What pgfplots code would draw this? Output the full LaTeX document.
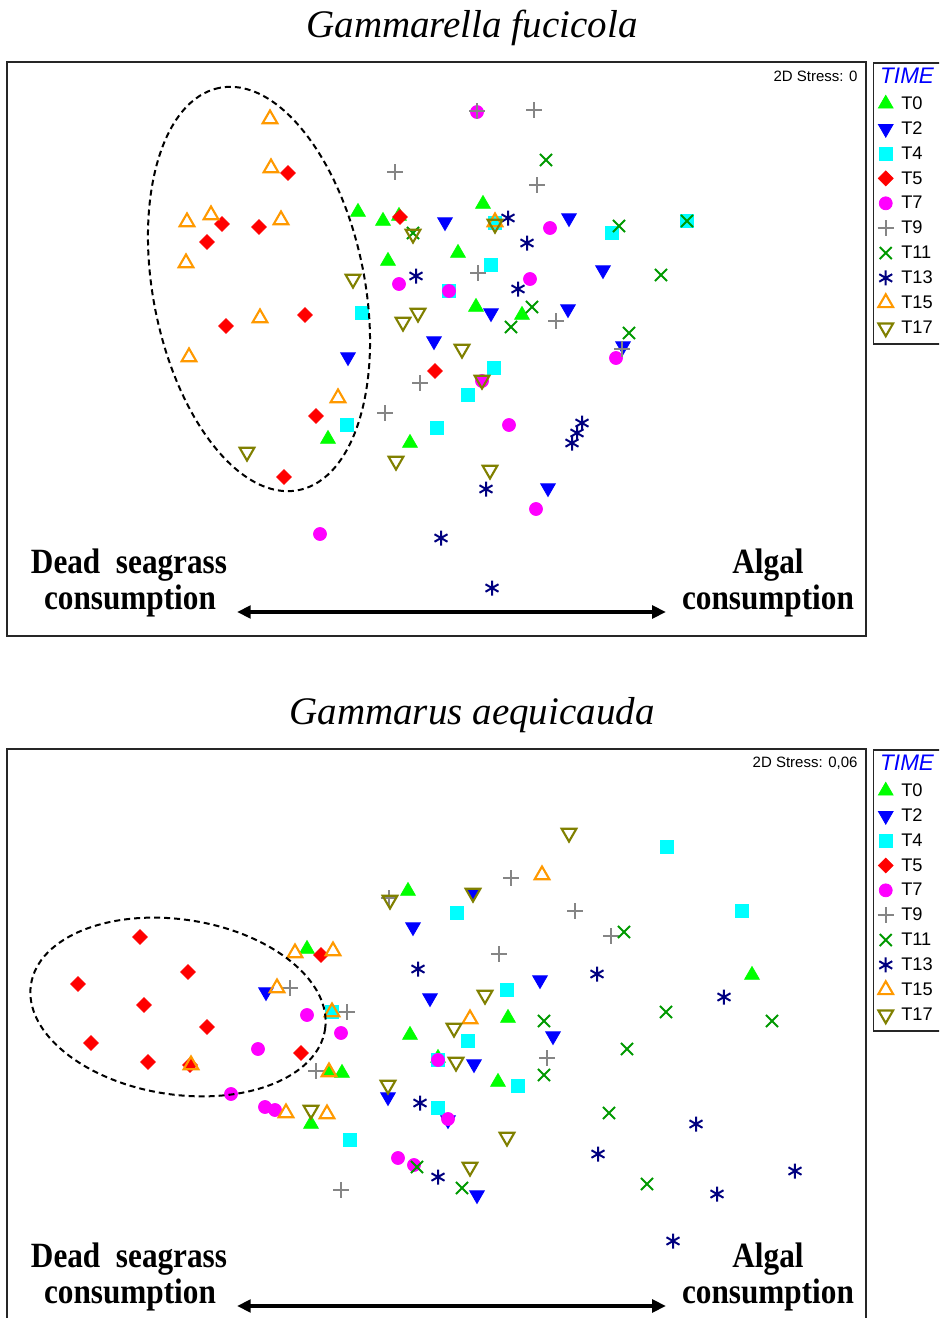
\documentclass[border=0pt]{standalone}
\usepackage{pgfplots}
\pgfplotsset{compat=1.18}
\usepackage{graphicx}
\usepackage{fontspec}
\setmainfont{Liberation Serif}
\newfontfamily\arialfont{Liberation Sans}
\usetikzlibrary{arrows.meta}

\definecolor{c0}{HTML}{00FF00}
\definecolor{c2}{HTML}{0000FF}
\definecolor{c4}{HTML}{00FFFF}
\definecolor{c5}{HTML}{FF0000}
\definecolor{c7}{HTML}{FF00FF}
\definecolor{c9}{HTML}{858585}
\definecolor{c11}{HTML}{009900}
\definecolor{c13}{HTML}{000080}
\definecolor{c15}{HTML}{FF9900}
\definecolor{c17}{HTML}{808000}

\pgfplotsset{
 sT0/.style={only marks, mark=triangle*, mark size=3.4pt, color=c0, line width=0.3pt},
 sT2/.style={only marks, mark=triangle*, mark size=3.4pt, color=c2, line width=0.3pt, mark options={rotate=180}},
 sT4/.style={only marks, mark=square*, mark size=2.6pt, color=c4, line width=0.3pt},
 sT5/.style={only marks, mark=square*, mark size=2.1pt, color=c5, line width=0.3pt, mark options={rotate=45}},
 sT7/.style={only marks, mark=*, mark size=2.6pt, color=c7, line width=0.3pt},
 sT9/.style={only marks, mark=+, mark size=3.2pt, color=c9, line width=0.9pt},
 sT11/.style={only marks, mark=x, mark size=3.4pt, color=c11, line width=0.8pt},
 sT13/.style={only marks, mark=asterisk, mark size=3pt, color=c13, line width=0.8pt},
 sT15/.style={only marks, mark=triangle, mark size=3.4pt, color=c15, line width=0.85pt},
 sT17/.style={only marks, mark=triangle, mark size=3.4pt, color=c17, line width=0.85pt, mark options={rotate=180}},
 nmds/.style={
  scale only axis, width=343.6pt, xmin=7, xmax=866, y dir=reverse,
  ticks=none, axis line style={line width=0.6pt, black!85},
  anchor=north west,
  legend cell align=left,
  legend image code/.code={\draw[mark repeat=2,mark phase=2,##1] plot coordinates {(0pt,0pt) (3.5pt,0pt) (7pt,0pt)};},
  legend style={at={(1.00815,1)}, anchor=north west, draw=black!85, line width=0.6pt,
    font={\arialfont\fontsize{7.3}{8.5}\selectfont},
    inner xsep=1.3pt, inner ysep=1.5pt, row sep=0pt,
    nodes={inner xsep=3pt, inner ysep=0pt, text height=7.2pt, text depth=2.75pt}},
 },
}

\begin{document}
\begin{tikzpicture}
\useasboundingbox (0,0) rectangle (375.6pt,-527.2pt);
\clip (0,0) rectangle (375.6pt,-527.2pt);

% ---------------- Top panel: Gammarella fucicola ----------------
\begin{axis}[nmds, at={(2.8pt,-24.8pt)}, height=229.6pt, ymin=62, ymax=636]
\addlegendimage{empty legend}
\addlegendentry{\hspace*{-8.4pt}\raisebox{0.6pt}{\textcolor{blue}{\fontsize{9}{10}\selectfont\itshape TIME}}}
\addplot[sT0] coordinates {(358,212)(383,221)(399,216)(483,204)(388,261)(458,253)(476,307)(522,315)(328,439)(410,443)};
\addlegendentry{T0}
\addplot[sT2] coordinates {(445,222)(569,218)(603,270)(491,313)(568,309)(434,341)(623,346)(348,357)(548,488)};
\addlegendentry{T2}
\addplot[sT4] coordinates {(495,223)(612,233)(687,221)(491,265)(449,291)(362,313)(494,368)(468,395)(347,425)(437,428)};
\addlegendentry{T4}
\addplot[sT5] coordinates {(288,173)(222,224)(207,242)(259,227)(400,217)(226,326)(305,315)(435,371)(316,416)(284,477)};
\addlegendentry{T5}
\addplot[sT7] coordinates {(477,112)(550,228)(399,284)(449,291)(530,279)(482,381)(616,358)(509,425)(536,509)(320,534)};
\addlegendentry{T7}
\addplot[sT9] coordinates {(477,111)(534,110)(395,172)(537,185)(478,273)(556,321)(622,349)(420,383)(385,413)};
\addlegendentry{T9}
\addplot[sT11] coordinates {(546,160)(619,226)(687,221)(661,275)(532,307)(511,327)(629,333)(413,233)};
\addlegendentry{T11}
\addplot[sT13] coordinates {(508,218)(527,243)(416,276)(518,289)(582,423)(577,433)(572,443)(486,489)(441,538)(492,588)};
\addlegendentry{T13}
\addplot[sT15] coordinates {(270,119)(271,168)(187,222)(211,215)(281,220)(186,263)(260,318)(189,357)(338,398)(495,222)};
\addlegendentry{T15}
\addplot[sT17] coordinates {(413,234)(495,224)(353,279)(418,313)(403,322)(462,349)(482,380)(247,452)(396,461)(490,470)};
\addlegendentry{T17}
\end{axis}

% ---------------- Bottom panel: Gammarus aequicauda ----------------
\begin{axis}[nmds, at={(2.8pt,-299.6pt)}, height=232.4pt, ymin=749, ymax=1330]
\addlegendimage{empty legend}
\addlegendentry{\hspace*{-8.4pt}\raisebox{0.6pt}{\textcolor{blue}{\fontsize{9}{10}\selectfont\itshape TIME}}}
\addplot[sT0] coordinates {(408,891)(307,949)(508,1018)(410,1035)(498,1082)(752,975)(342,1073)(329,1072)(311,1124)(438,1058)};
\addlegendentry{T0}
\addplot[sT2] coordinates {(413,927)(473,893)(430,998)(540,980)(553,1036)(474,1064)(388,1097)(266,992)(477,1195)(448,1120)};
\addlegendentry{T2}
\addplot[sT4] coordinates {(667,847)(742,911)(457,913)(507,990)(468,1041)(518,1086)(438,1108)(350,1140)(332,1012)(438,1060)};
\addlegendentry{T4}
\addplot[sT5] coordinates {(140,937)(188,972)(78,984)(144,1005)(207,1027)(91,1043)(148,1062)(190,1065)(301,1053)(321,955)};
\addlegendentry{T5}
\addplot[sT7] coordinates {(307,1015)(341,1033)(258,1049)(231,1094)(265,1107)(275,1110)(438,1060)(448,1119)(398,1158)(414,1165)};
\addlegendentry{T7}
\addplot[sT9] coordinates {(389,898)(511,878)(575,911)(611,936)(499,954)(547,1058)(290,988)(347,1012)(316,1071)(341,1190)};
\addlegendentry{T9}
\addplot[sT11] coordinates {(624,932)(666,1012)(772,1021)(627,1049)(609,1113)(647,1184)(544,1021)(544,1075)(417,1167)(462,1188)};
\addlegendentry{T11}
\addplot[sT13] coordinates {(418,969)(597,974)(724,997)(696,1124)(598,1154)(795,1171)(717,1194)(673,1241)(420,1103)(438,1177)};
\addlegendentry{T13}
\addplot[sT15] coordinates {(542,875)(295,953)(333,951)(277,988)(332,1012)(191,1065)(329,1072)(470,1019)(286,1113)(327,1114)};
\addlegendentry{T15}
\addplot[sT17] coordinates {(569,833)(390,900)(473,893)(485,995)(454,1028)(456,1062)(388,1085)(507,1137)(470,1167)(311,1110)};
\addlegendentry{T17}
\end{axis}

% ---------------- annotations (pixel coordinates) ----------------
\begin{scope}[x=0.4pt,y=-0.4pt]
\node[anchor=base, font=\fontsize{15.6}{18}\selectfont\itshape, inner sep=0pt] at (472,37) {Gammarella fucicola};
\node[anchor=base, font=\fontsize{15.6}{18}\selectfont\itshape, inner sep=0pt] at (472,725) {Gammarus aequicauda};

\node[anchor=base east, font=\arialfont\fontsize{6}{7}\selectfont, inner sep=0pt] at (858,81) {2D Stress: 0};
\node[anchor=base east, font=\arialfont\fontsize{6}{7}\selectfont, inner sep=0pt] at (858,768) {2D Stress: 0,06};

\foreach \dy in {0,694}{
 \node[anchor=base, font=\bfseries\fontsize{14.2}{16}\selectfont, inner sep=0pt] at (129,574+\dy) {\scalebox{0.88}[1]{Dead\ \ seagrass}};
 \node[anchor=base, font=\bfseries\fontsize{14.2}{16}\selectfont, inner sep=0pt] at (130,610+\dy) {\scalebox{0.88}[1]{consumption}};
 \node[anchor=base, font=\bfseries\fontsize{14.2}{16}\selectfont, inner sep=0pt] at (768,574+\dy) {\scalebox{0.88}[1]{Algal}};
 \node[anchor=base, font=\bfseries\fontsize{14.2}{16}\selectfont, inner sep=0pt] at (768,610+\dy) {\scalebox{0.88}[1]{consumption}};
 \draw[line width=1.5pt, {Triangle[length=5.5pt,width=5pt]}-{Triangle[length=5.5pt,width=5pt]}] (237,612+\dy) -- (666,612+\dy);
}

\draw[line width=0.8pt, dash pattern=on 2.4pt off 1.6pt, rotate around={101.1:(259,289)}]
  (259,289) ellipse [x radius=82pt, y radius=42.3pt];
\draw[line width=0.8pt, dash pattern=on 2.4pt off 1.6pt, rotate around={-8.7:(178,1007)}]
  (178,1007) ellipse [x radius=59.5pt, y radius=35pt];
\end{scope}
\end{tikzpicture}
\end{document}
